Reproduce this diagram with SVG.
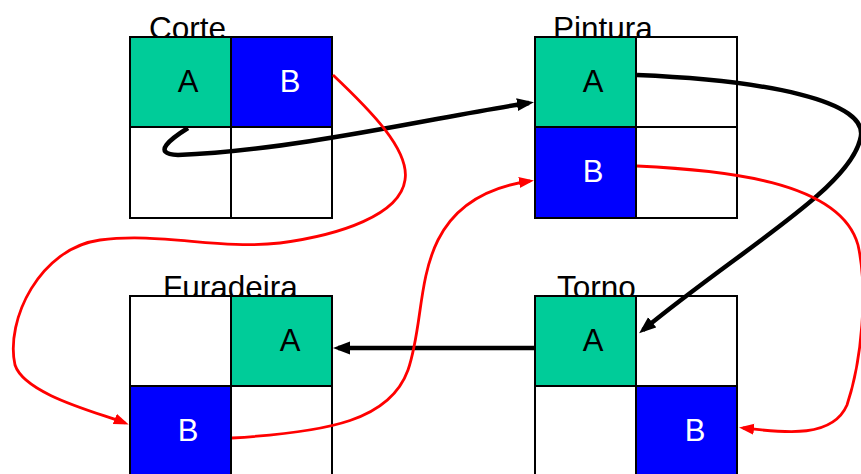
<svg xmlns="http://www.w3.org/2000/svg" width="861" height="474" viewBox="0 0 861 474">
<style>
.lbl{font-family:"Liberation Sans",Arial,sans-serif;font-size:31.5px;fill:#000}
.cl{font-family:"Liberation Sans",Arial,sans-serif;font-size:31px;text-anchor:middle}
.w{fill:#fff;stroke:#000;stroke-width:2}
.g{fill:#00CC99;stroke:#000;stroke-width:2}
.b{fill:#0000FF;stroke:#000;stroke-width:2}
.k{fill:none;stroke:#000;stroke-width:4.5}
.r{fill:none;stroke:#FF0000;stroke-width:2.8}
</style>
<defs>
<marker id="ak" markerUnits="userSpaceOnUse" markerWidth="18" markerHeight="14" refX="12" refY="6.5" orient="auto"><path d="M0,0 L17,6.5 L0,13 z" fill="#000"/></marker>
<marker id="ar" markerUnits="userSpaceOnUse" markerWidth="16" markerHeight="12" refX="11" refY="5.5" orient="auto"><path d="M0,0 L15,5.5 L0,11 z" fill="#FF0000"/></marker>
</defs>
<rect width="861" height="474" fill="#fff"/>
<g id="corte">
<text class="lbl" x="149" y="39">Corte</text>
<rect class="g" x="130" y="37" width="101" height="90"/>
<rect class="b" x="231" y="37" width="101" height="90"/>
<rect class="w" x="130" y="127" width="101" height="91"/>
<rect class="w" x="231" y="127" width="101" height="91"/>
<text class="cl" x="188" y="92" fill="#000">A</text>
<text class="cl" x="290" y="92" fill="#fff">B</text>
</g>
<g id="pintura">
<text class="lbl" x="553" y="39">Pintura</text>
<rect class="g" x="535" y="37" width="101" height="90"/>
<rect class="w" x="636" y="37" width="101" height="90"/>
<rect class="b" x="535" y="127" width="101" height="91"/>
<rect class="w" x="636" y="127" width="101" height="91"/>
<text class="cl" x="593" y="92" fill="#000">A</text>
<text class="cl" x="593" y="182" fill="#fff">B</text>
</g>
<g id="furadeira">
<text class="lbl" x="163" y="298">Furadeira</text>
<rect class="w" x="130" y="296" width="101" height="90"/>
<rect class="g" x="231" y="296" width="101" height="90"/>
<rect class="b" x="130" y="386" width="101" height="92"/>
<rect class="w" x="231" y="386" width="101" height="92"/>
<text class="cl" x="290" y="351" fill="#000">A</text>
<text class="cl" x="188" y="441" fill="#fff">B</text>
</g>
<g id="torno">
<text class="lbl" x="557" y="298">Torno</text>
<rect class="g" x="535" y="296" width="101" height="90"/>
<rect class="w" x="636" y="296" width="101" height="90"/>
<rect class="w" x="535" y="386" width="101" height="92"/>
<rect class="b" x="636" y="386" width="101" height="92"/>
<text class="cl" x="593" y="351" fill="#000">A</text>
<text class="cl" x="695" y="441" fill="#fff">B</text>
</g>
<g id="connectors">
<path class="k" d="M188,128 C172,138 150,154 178,155 C300,150 450,114 529,103" marker-end="url(#ak)"/>
<path class="k" d="M637,75 C760,80 874,100 860,140 C847,190 740,250 643,330" marker-end="url(#ak)"/>
<path class="k" d="M535,348 L338,348" marker-end="url(#ak)"/>
<path class="r" d="M333,75 C370,110 410,150 405,180 C400,215 340,235 280,243 C220,250 160,232 100,240 C40,248 5,320 15,365 C25,395 100,413 125,423" marker-end="url(#ar)"/>
<path class="r" d="M232,438 C330,432 390,420 408,370 C422,330 418,280 438,240 C458,200 495,186 530,181" marker-end="url(#ar)"/>
<path class="r" d="M637,166 C720,170 840,180 858,245 C868,290 862,360 847,405 C832,440 780,432 743,428" marker-end="url(#ar)"/>
</g>
</svg>
